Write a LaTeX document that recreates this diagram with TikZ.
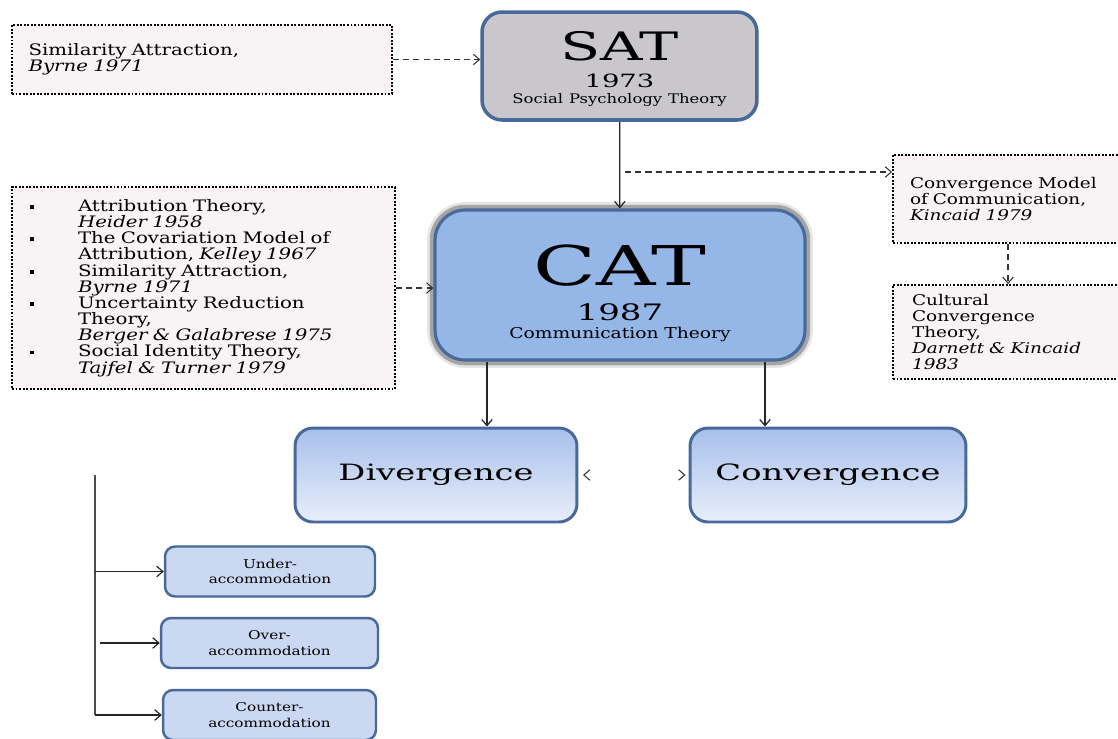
\documentclass[tikz,border=0pt]{standalone}
\usepackage{fontspec}
\setmainfont[FakeStretch=1.25]{DejaVu Serif}
\newfontfamily\widefont[FakeStretch=1.5]{DejaVu Serif}
\usetikzlibrary{arrows.meta,positioning}
\definecolor{notefill}{HTML}{F8F4F6}
\definecolor{satfill}{HTML}{C9C7CC}
\definecolor{catfill}{HTML}{95B7E7}
\definecolor{rimblue}{HTML}{48699A}
\definecolor{toptint}{HTML}{A8C0EB}
\definecolor{bottint}{HTML}{E8EEFA}
\definecolor{modefill}{HTML}{CAD8F2}
\newcommand{\bul}{\makebox[0.96cm][l]{\rule[0.3ex]{2.2pt}{2.2pt}}}
\newcommand{\gap}{\hspace*{0.96cm}}
\tikzset{note box/.style={draw=black,fill=notefill,line width=1.1pt,dash pattern=on 1.1pt off 0.9pt,inner xsep=0.33cm,align=left},
	theory box/.style={draw=rimblue,rounded corners=0.4cm,line width=2pt,align=center},
	cat glow/.style={preaction={draw=black,line width=9pt,opacity=.1},preaction={draw=black,line width=6pt,opacity=.28}},
	branch box/.style={draw=rimblue,rounded corners=0.36cm,line width=1.7pt,top color=toptint,bottom color=bottint,minimum height=1.88cm,font=\widefont\fontsize{12.8}{15}\selectfont},
	mode box/.style={draw=rimblue,rounded corners=0.2cm,line width=1.4pt,fill=modefill,minimum height=1cm,align=center,font=\fontsize{6.95}{9}\selectfont},
	dash arrow/.style={-{Straight Barb[length=3.5pt,width=6pt]},black!80,line width=0.6pt,dash pattern=on 3.5pt off 2.3pt},
	link/.style={-{Straight Barb[length=3.5pt,width=6pt]},black!85,line width=0.7pt},
}

\begin{document}
\begin{tikzpicture}[x=0.02cm,y=-0.02cm]
		\useasboundingbox (0,0) rectangle (1118,738);
		\node[note box,text width=6.94cm,minimum height=1.38cm,font=\fontsize{9}{9.2}\selectfont] (sim) at (202,59.5) {Similarity Attraction,\\\textit{Byrne 1971}};
		\node[note box,inner xsep=0.36cm,text width=6.94cm,minimum height=4.04cm,font=\fontsize{9}{9.2}\selectfont] (attr) at (203.5,288) {\bul Attribution Theory,\\
			\gap\textit{Heider 1958}\\
			\bul The Covariation Model of\\
			\gap Attribution, \textit{Kelley 1967}\\
			\bul Similarity Attraction,\\
			\gap\textit{Byrne 1971}\\
			\bul Uncertainty Reduction\\
			\gap Theory,\\
			\gap\textit{Berger \& Galabrese 1975}\\
			\bul Social Identity Theory,\\
			\gap\textit{Tajfel \& Turner 1979}};
		\node[theory box,fill=satfill,minimum width=5.5cm,minimum height=2.16cm,text width=5cm] (sat) at (619.5,66) {{\widefont\fontsize{22.3}{22}\selectfont\rule{0pt}{19.5pt}SAT\par\fontsize{10.4}{15.3}\selectfont 1973\par}\fontsize{7.5}{9.1}\selectfont Social Psychology Theory\par};
		\node[theory box,cat glow,fill=catfill,rounded corners=0.6cm,line width=1.8pt,minimum width=7.4cm,minimum height=3cm,text width=7cm] (cat) at (620,285) {{\widefont\fontsize{31.2}{30}\selectfont\rule{0pt}{33pt}CAT\par\fontsize{12.9}{19.8}\selectfont 1987\par}\fontsize{8.5}{10.2}\selectfont Communication Theory\par};
		\node[note box,inner xsep=0.34cm,text width=3.92cm,minimum height=1.76cm,font=\fontsize{8.4}{9.1}\selectfont] (cmodel) at (1008,199) {Convergence Model\\of Communication,\\\textit{Kincaid 1979}};
		\node[note box,inner xsep=0.38cm,text width=3.84cm,minimum height=1.88cm,font=\fontsize{8.4}{9.1}\selectfont] (cult) at (1008,332) {Cultural\\Convergence\\Theory,\\\textit{Darnett \& Kincaid}\\\textit{1983}};
		\node[branch box,minimum width=5.64cm] (div) at (436,475) {Divergence};
		\node[branch box,minimum width=5.52cm] (conv) at (828,475) {Convergence};
		\node[mode box,minimum width=4.2cm] (under) at (270,571.5) {Under-\\accommodation};
		\node[mode box,minimum width=4.34cm] (over) at (269.5,643) {Over-\\accommodation};
		\node[mode box,minimum width=4.26cm] (counter) at (269.5,715) {Counter-\\accommodation};

		\coordinate (split) at (625,172);
		\coordinate (leftdrop) at (487,0);
		\coordinate (rightdrop) at (765,0);
		\coordinate (railtop) at (95,475);
		\coordinate (railover) at (100,643);

		\path[link]
			(sat) edge (cat)
			(cat.south -| leftdrop) edge (div.north -| leftdrop)
			(cat.south -| rightdrop) edge (conv.north -| rightdrop);
		\path[dash arrow]
			(sim.east) edge (sim.east -| sat.west)
			(attr.east) edge (attr.east -| cat.west)
			(split) edge (split -| cmodel.west)
			(cmodel.south) edge (cult.north);
		\draw[white,line width=0.6pt,{Straight Barb[length=3.5pt,width=6pt,color=black!80]}-{Straight Barb[length=3.5pt,width=6pt,color=black!80]},shorten <=0.09cm,shorten >=0.06cm] (div.east) -- (conv.west);
		\draw[black!70,line width=0.9pt] (railtop) -- (railtop |- counter.west);
		\path[link]
			(railtop |- under.west) edge (under.west)
			(railover) edge (over.west)
			(railtop |- counter.west) edge (counter.west);
	\end{tikzpicture}
\end{document}
